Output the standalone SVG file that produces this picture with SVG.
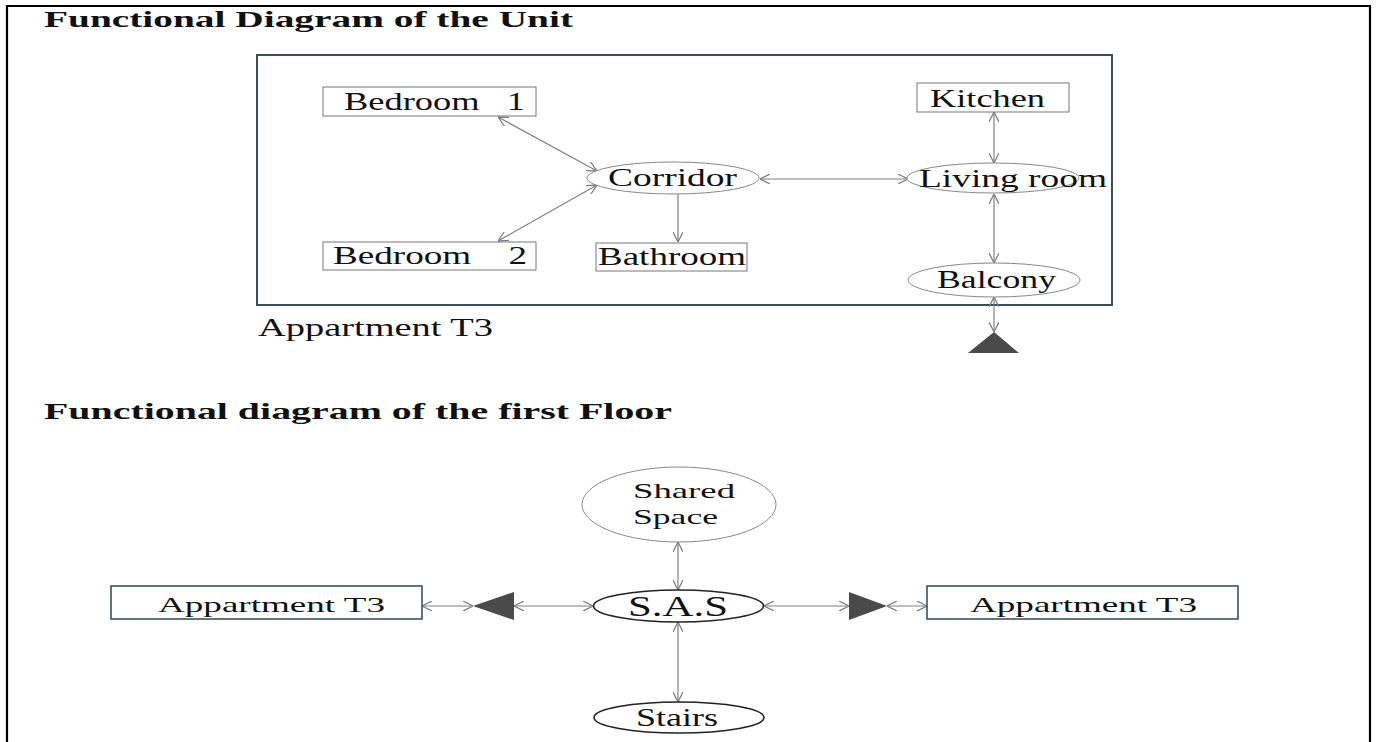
<svg xmlns="http://www.w3.org/2000/svg" width="1377" height="742" viewBox="0 0 1377 742">
<style>
  text { font-family: "Liberation Serif", "Times New Roman", serif; fill: #111; }
  .title { font-weight: bold; font-size: 23px; }
  .lbl { font-size: 25px; }
  .sm { font-size: 21px; }
  .ss { font-size: 22px; }
  .box { fill: #fff; stroke: #777; stroke-width: 1; }
  .abox { fill: #fff; stroke: #3b5260; stroke-width: 1.6; }
  .ell { fill: #fff; stroke: #888; stroke-width: 1; }
  .ellb { fill: #fff; stroke: #222; stroke-width: 1.6; }
  .con { stroke: #808080; stroke-width: 1.2; fill: none; }
  .tri { fill: #4a4a4a; }
</style>
<defs>
  <marker id="v" viewBox="0 0 10 10" refX="10" refY="5" markerWidth="10" markerHeight="10" markerUnits="userSpaceOnUse" orient="auto-start-reverse">
    <path d="M0,0 L10,5 L0,10" fill="none" stroke="#808080" stroke-width="1.3"/>
  </marker>
</defs>
<rect x="0" y="0" width="1377" height="742" fill="#fff"/>
<path d="M7,742 L7,6 L1370,6 L1370,742" fill="none" stroke="#000" stroke-width="2.2"/>

<text class="title" x="44" y="27" textLength="529" lengthAdjust="spacingAndGlyphs">Functional Diagram of the Unit</text>
<text class="title" x="44" y="419" textLength="628" lengthAdjust="spacingAndGlyphs">Functional diagram of the first Floor</text>

<g id="unit-frame">
  <rect x="257" y="55" width="855" height="250" fill="none" stroke="#3b4d58" stroke-width="2"/>
  <text class="lbl" x="258" y="336" textLength="235" lengthAdjust="spacingAndGlyphs">Appartment T3</text>
</g>

<g id="connectors">
  <line class="con" x1="498" y1="117" x2="597" y2="171" marker-start="url(#v)" marker-end="url(#v)"/>
  <line class="con" x1="498" y1="241" x2="597" y2="185" marker-start="url(#v)" marker-end="url(#v)"/>
  <line class="con" x1="678" y1="194" x2="678" y2="242" marker-end="url(#v)"/>
  <line class="con" x1="760" y1="179" x2="908" y2="179" marker-start="url(#v)" marker-end="url(#v)"/>
  <line class="con" x1="994" y1="112" x2="994" y2="163" marker-start="url(#v)" marker-end="url(#v)"/>
  <line class="con" x1="994" y1="194" x2="994" y2="263" marker-start="url(#v)" marker-end="url(#v)"/>
  <line class="con" x1="994" y1="297" x2="994" y2="332" marker-start="url(#v)" marker-end="url(#v)"/>

  <line class="con" x1="422" y1="606" x2="473" y2="606" marker-start="url(#v)" marker-end="url(#v)"/>
  <line class="con" x1="514" y1="606" x2="593" y2="606" marker-start="url(#v)" marker-end="url(#v)"/>
  <line class="con" x1="764" y1="606" x2="849" y2="606" marker-start="url(#v)" marker-end="url(#v)"/>
  <line class="con" x1="887" y1="606" x2="927" y2="606" marker-start="url(#v)" marker-end="url(#v)"/>
  <line class="con" x1="678" y1="542" x2="678" y2="590" marker-start="url(#v)" marker-end="url(#v)"/>
  <line class="con" x1="678" y1="622" x2="678" y2="702" marker-start="url(#v)" marker-end="url(#v)"/>
</g>

<g id="bedroom1">
  <rect class="box" x="323" y="87" width="213" height="29"/>
  <text class="lbl" x="344" y="110" textLength="181" lengthAdjust="spacingAndGlyphs" xml:space="preserve">Bedroom   1</text>
</g>
<g id="bedroom2">
  <rect class="box" x="323" y="242" width="213" height="28"/>
  <text class="lbl" x="333" y="264" textLength="194" lengthAdjust="spacingAndGlyphs" xml:space="preserve">Bedroom    2</text>
</g>
<g id="corridor">
  <ellipse class="ell" cx="673" cy="178" rx="86" ry="16"/>
  <text class="lbl" x="608" y="186" textLength="129" lengthAdjust="spacingAndGlyphs">Corridor</text>
</g>
<g id="bathroom">
  <rect class="box" x="596" y="243" width="151" height="28"/>
  <text class="lbl" x="598" y="265" textLength="148" lengthAdjust="spacingAndGlyphs">Bathroom</text>
</g>
<g id="kitchen">
  <rect class="box" x="917" y="83" width="152" height="29"/>
  <text class="lbl" x="930" y="107" textLength="115" lengthAdjust="spacingAndGlyphs">Kitchen</text>
</g>
<g id="living-room">
  <ellipse class="ell" cx="993" cy="178" rx="86" ry="15"/>
  <text class="lbl" x="919" y="187" textLength="188" lengthAdjust="spacingAndGlyphs">Living room</text>
</g>
<g id="balcony">
  <ellipse class="ell" cx="994" cy="280" rx="86" ry="17"/>
  <text class="lbl" x="937" y="288" textLength="119" lengthAdjust="spacingAndGlyphs">Balcony</text>
</g>
<g id="entrance-unit">
  <polygon class="tri" points="994,332 1019,353 968,353"/>
</g>

<g id="shared-space">
  <ellipse class="ell" cx="679" cy="504.5" rx="97" ry="37.5"/>
  <text class="ss" x="633" y="498" textLength="102" lengthAdjust="spacingAndGlyphs">Shared</text>
  <text class="ss" x="633" y="524" textLength="85" lengthAdjust="spacingAndGlyphs">Space</text>
</g>
<g id="sas">
  <ellipse class="ellb" cx="678.5" cy="606" rx="85" ry="16"/>
  <text x="628" y="616" style="font-size:29px" textLength="100" lengthAdjust="spacingAndGlyphs">S.A.S</text>
</g>
<g id="stairs">
  <ellipse class="ellb" cx="679" cy="717.5" rx="85" ry="15.5"/>
  <text class="lbl" x="636" y="726" textLength="82" lengthAdjust="spacingAndGlyphs">Stairs</text>
</g>
<g id="apartment-left">
  <rect class="abox" x="111" y="586" width="311" height="33"/>
  <text class="sm" x="158" y="612" textLength="227" lengthAdjust="spacingAndGlyphs">Appartment T3</text>
</g>
<g id="entrance-left">
  <polygon class="tri" points="473,606 514,592 514,620"/>
</g>
<g id="entrance-right">
  <polygon class="tri" points="849,592 849,620 887,606"/>
</g>
<g id="apartment-right">
  <rect class="abox" x="927" y="586" width="311" height="33"/>
  <text class="sm" x="970" y="612" textLength="227" lengthAdjust="spacingAndGlyphs">Appartment T3</text>
</g>
</svg>
